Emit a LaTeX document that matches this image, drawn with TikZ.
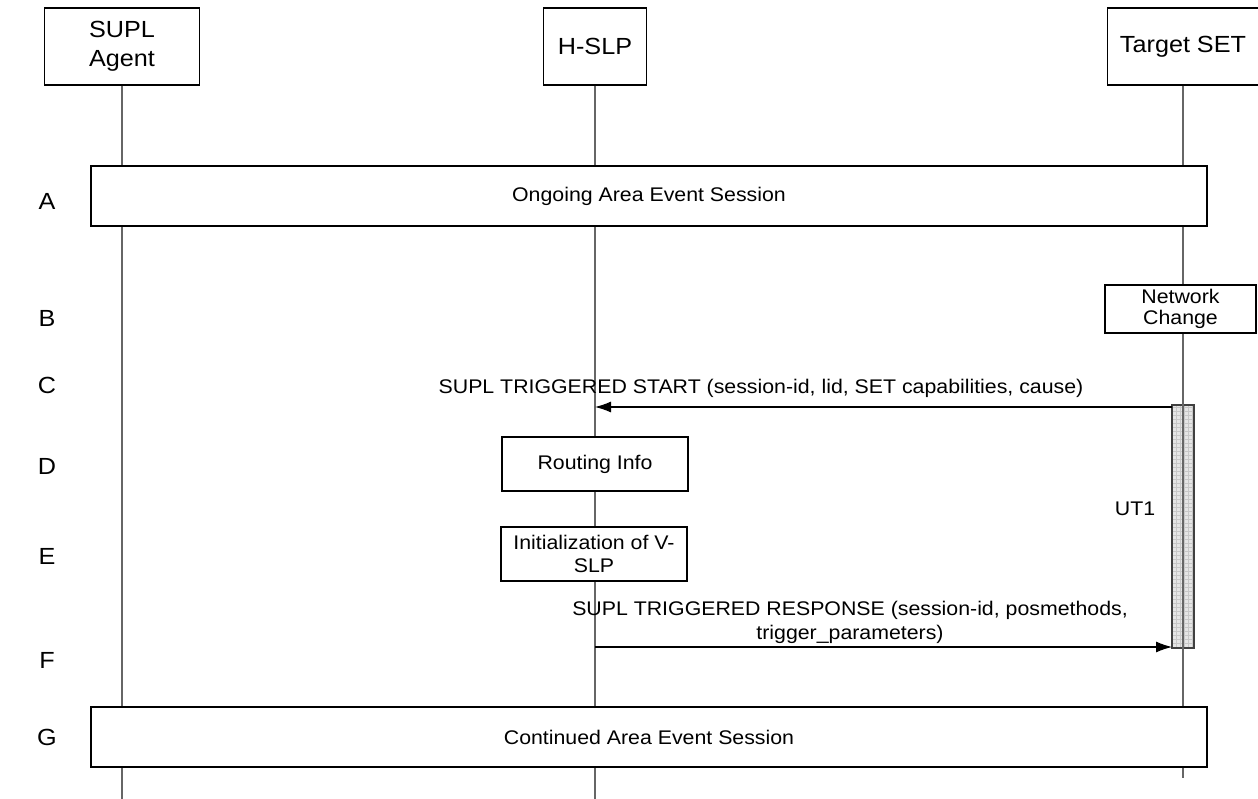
\documentclass[tikz,border=0pt]{standalone}
\usepackage{fontspec}
\setmainfont{Liberation Sans}[FakeStretch=1.08]
\usetikzlibrary{arrows.meta,patterns}
\def\px{0.75pt}
\begin{document}
\begin{tikzpicture}[x=0.75pt,y=-0.75pt,
  every node/.style={font=\fontsize{14.8}{18}\selectfont, inner sep=0pt},
  box/.style={draw=black, line width=0.9pt, fill=white, align=center},
  headbox/.style={box, font=\fontsize{17.5}{22}\selectfont},
  life/.style={draw=black!60, line width=0.9pt},
  msg/.style={draw=black, line width=0.8pt, -{Latex[length=16*\px, width=11*\px]}},
  timerbar/.style={draw=black!75, line width=0.8pt, preaction={fill=black!10}, pattern=grid, pattern color=black!22},
  steplabel/.style={anchor=center, font=\fontsize{17.5}{20}\selectfont}]
\useasboundingbox (0,0) rectangle (1258,799);

% header boxes
\node[headbox, minimum width=155*\px, minimum height=77*\px] (agent) at (122,46.5) {SUPL\\Agent};
\node[headbox, minimum width=103*\px, minimum height=77*\px] (hslp) at (595,46.5) {H-SLP};
\node[headbox, minimum width=151*\px, minimum height=77*\px] (target) at (1183,46.5) {Target SET};

% lifeline end points
\coordinate (aEnd) at (122,799);
\coordinate (hEnd) at (595,799);
\coordinate (tEnd) at (1183,778);

% timer bar
\node[timerbar, minimum width=22*\px, minimum height=243*\px] (ut) at (1183,526.5) {};

% lifelines
\draw[life] (agent.south) -- (aEnd);
\draw[life] (hslp.south) -- (hEnd);
\draw[life] (target.south) -- (tEnd);

% session boxes
\node[box, minimum width=1116*\px, minimum height=60*\px] (A) at (649,196) {Ongoing Area Event Session};
\node[box, minimum width=1116*\px, minimum height=60*\px] (G) at (649,737) {Continued Area Event Session};

% network change
\node[box, minimum width=151*\px, minimum height=48*\px, font=\fontsize{14.8}{16}\selectfont] (nc) at (1180.5,309) {Network\\Change};

% routing / init
\node[box, minimum width=186*\px, minimum height=54*\px] (ri) at (595,464) {Routing Info};
\node[box, minimum width=186*\px, minimum height=54*\px, font=\fontsize{14.8}{17.5}\selectfont] (init) at (594,554) {Initialization of V-\\SLP};

% message C
\coordinate (cFrom) at (1172,407);
\coordinate (cTo) at (595,407);
\draw[msg] (cFrom) -- (cTo);
\node (cLab) at (761,388) {SUPL TRIGGERED START (session-id, lid, SET capabilities, cause)};

% message F
\coordinate (fFrom) at (595,647);
\coordinate (fTo) at (1172,647);
\draw[msg] (fFrom) -- (fTo);
\node[align=center, font=\fontsize{14.8}{18}\selectfont] (fLab) at (850,622) {SUPL TRIGGERED RESPONSE (session-id, posmethods,\\trigger\_parameters)};

% timer label
\node (ut1) at (1135,509) {UT1};

% step letters
\node[steplabel] (lA) at (47,201) {A};
\node[steplabel] (lB) at (47,318) {B};
\node[steplabel] (lC) at (47,385) {C};
\node[steplabel] (lD) at (47,466) {D};
\node[steplabel] (lE) at (47,556) {E};
\node[steplabel] (lF) at (47,660) {F};
\node[steplabel] (lG) at (47,737) {G};
\end{tikzpicture}
\end{document}
